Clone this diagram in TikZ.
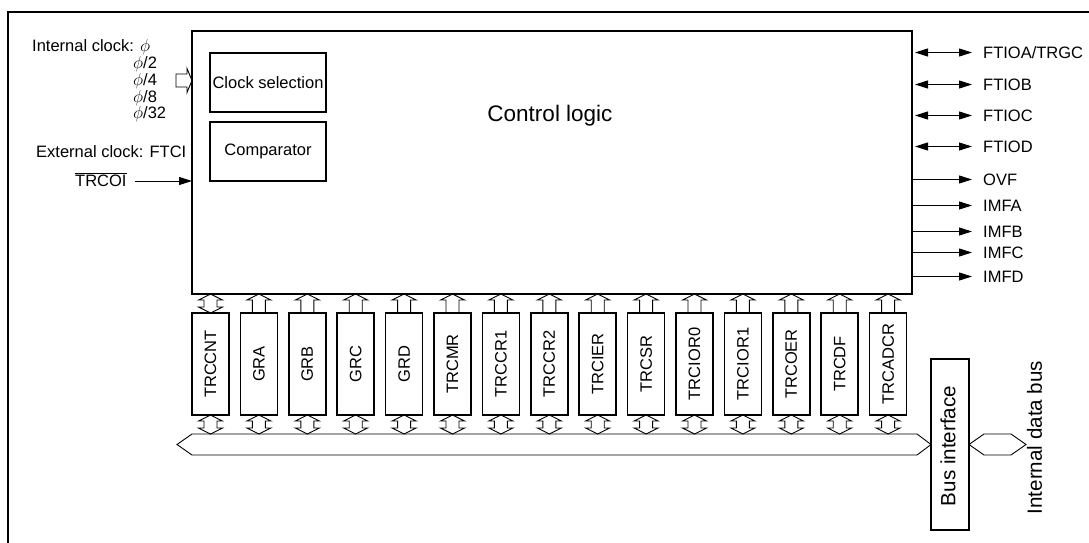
\documentclass[tikz,border=0pt]{standalone}
\usepackage{fontspec}
\setmainfont{Liberation Sans}
\usetikzlibrary{arrows.meta,calc}
\newcommand{\lbl}{\fontsize{16.5}{20}\selectfont}
% hollow arrow, register up into the control logic
\newcommand{\upblk}[1]{\draw[hollow] (#1.north) ++(-6.5,0) -- ++(0,-13) -- ++(-5.5,0) -- (#1.north |- ctrl.south) -- ++(12,6) -- ++(-5.5,0) -- ++(0,13);}
% hollow arrow with two heads, #1 upper tip, #2 lower tip
\newcommand{\bothblk}[2]{\draw[hollow] (#1) -- ++(-12,6) -- ++(5.5,0) -- ($(#2)+(-6.5,-6)$) -- ++(-5.5,0) -- (#2) -- ++(12,-6) -- ++(-5.5,0) -- ($(#1)+(6.5,6)$) -- ++(5.5,0) -- cycle;}

\begin{document}
\begin{tikzpicture}[x=1pt,y=-1pt,
  box/.style={draw, line width=1.7pt, outer sep=0pt, inner sep=0pt},
  txt/.style={inner sep=0pt, font=\lbl},
  hollow/.style={draw, line width=0.9pt, line join=miter},
  sig/.style={line width=0.9pt, -{Triangle[length=13pt,width=8pt]}, shorten >=11pt},
  sigio/.style={sig, {Triangle[length=13pt,width=8pt]}-{Triangle[length=13pt,width=8pt]}, shorten <=3pt}]
\useasboundingbox (0,0) rectangle (1089,543);
\draw[line width=1.7pt] (8,543) -- (8,12) -- (1089,12);

% control logic block
\node[box, minimum width=720, minimum height=263] (ctrl) at (552,162.5) {};
\node[txt, font=\fontsize{22.5}{26}\selectfont] (ctrltxt) at (550,115.5) {Control logic};
\node[box, minimum width=116, minimum height=59, font=\lbl] (clksel) at (268,82.5) {Clock selection};
\node[box, minimum width=116, minimum height=59, font=\lbl] (comp) at (268,151.5) {Comparator};

% clock inputs
\node[txt, anchor=base west] (intclk) at (32,52) {Internal clock: $\phi$};
\node[txt, anchor=base west] (clk2) at (133,69) {$\phi$/2};
\node[txt, anchor=base west] (clk4) at (133,85.5) {$\phi$/4};
\node[txt, anchor=base west] (clk8) at (133,102) {$\phi$/8};
\node[txt, anchor=base west] (clk32) at (133,118.5) {$\phi$/32};
\draw[hollow] (176,74) -- (187,74) -- (187,68.5) -- (192,80.5) -- (187,92.5) -- (187,87) -- (176,87) -- cycle;
\node[txt, anchor=base west] (extclk) at (36,157) {External clock: FTCI};
\node[txt, anchor=base west] (trcoi) at (75,186) {$\overline{\mbox{TRCOI}}$};
\draw[sig, shorten >=0pt, shorten <=8pt] (trcoi.east |- 0,181) -- (ctrl.west |- 0,181);

% outputs
\node[txt, anchor=west] (ftioa) at (983,52.5) {FTIOA/TRGC};
\node[txt, anchor=west] (ftiob) at (983,84.5) {FTIOB};
\node[txt, anchor=west] (ftioc) at (983,115.5) {FTIOC};
\node[txt, anchor=west] (ftiod) at (983,146.5) {FTIOD};
\node[txt, anchor=west] (ovf) at (983,179.5) {OVF};
\node[txt, anchor=west] (imfa) at (983,205.5) {IMFA};
\node[txt, anchor=west] (imfb) at (983,231.5) {IMFB};
\node[txt, anchor=west] (imfc) at (983,252.5) {IMFC};
\node[txt, anchor=west] (imfd) at (983,276.5) {IMFD};
\draw[sigio] (ctrl.east |- ftioa.west) -- (ftioa.west);
\draw[sigio] (ctrl.east |- ftiob.west) -- (ftiob.west);
\draw[sigio] (ctrl.east |- ftioc.west) -- (ftioc.west);
\draw[sigio] (ctrl.east |- ftiod.west) -- (ftiod.west);
\draw[sig] (ctrl.east |- ovf.west) -- (ovf.west);
\draw[sig] (ctrl.east |- imfa.west) -- (imfa.west);
\draw[sig] (ctrl.east |- imfb.west) -- (imfb.west);
\draw[sig] (ctrl.east |- imfc.west) -- (imfc.west);
\draw[sig] (ctrl.east |- imfd.west) -- (imfd.west);

% registers
\foreach \nm [count=\i from 0] in {TRCCNT,GRA,GRB,GRC,GRD,TRCMR,TRCCR1,TRCCR2,TRCIER,TRCSR,TRCIOR0,TRCIOR1,TRCOER,TRCDF,TRCADCR} {
  \node[box, minimum width=37, minimum height=102] (r\i) at (210.5+48.4*\i,364) {};
  \node[txt, rotate=90] (t\i) at (r\i) {\nm};
}
\coordinate (c0) at (r0.north |- ctrl.south);
\bothblk{c0}{r0.north}
\foreach \i in {1,...,14} {\upblk{r\i}}

% internal bus
\coordinate (busN) at (550,434);
\node[box, minimum width=38, minimum height=171] (busif) at (950,444.5) {};
\node[txt, rotate=90, font=\fontsize{20.6}{24}\selectfont] (busiftxt) at (948,446) {Bus interface};
\draw[hollow] (177,444.5) -- (192,434) -- (917,434) -- (busif.west) -- (917,455) -- (192,455) -- cycle;
\foreach \i in {0,...,14} {
  \coordinate (b\i) at (r\i.south |- busN);
  \bothblk{r\i.south}{b\i}
}
\draw[hollow] (busif.east) -- (984,434) -- (1011,434) -- (1026,444.5) -- (1011,455) -- (984,455) -- cycle;
\node[txt, rotate=90, font=\fontsize{20.6}{24}\selectfont] (idbus) at (1034.5,437.5) {Internal data bus};
\end{tikzpicture}
\end{document}
